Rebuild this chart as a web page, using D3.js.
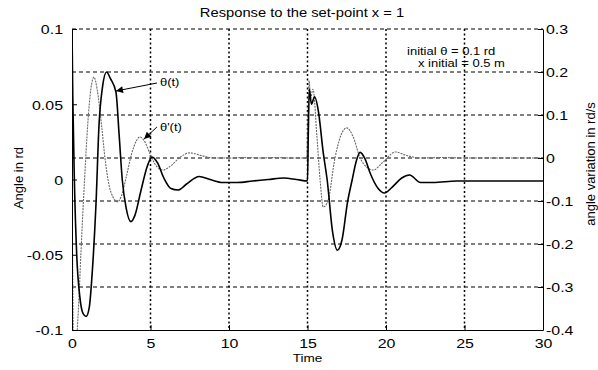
<!DOCTYPE html>
<html>
<head>
<meta charset="utf-8">
<script src="https://cdn.jsdelivr.net/npm/d3@7"></script>
<style>
  body { margin: 0; background: #fff; }
  text { font-family: Arial, "Liberation Sans", Helvetica, sans-serif; fill: #000; }
</style>
</head>
<body>
<div id="chart"></div>
<script>
// angle theta(t), left axis (rd)
var thetaTime = [0, 0.05, 0.15, 0.3, 0.5, 0.7, 0.9, 1.1, 1.3, 1.53, 1.72, 1.95, 2.2, 2.45, 2.8, 3.0, 3.2, 3.45, 3.75, 4.0, 4.4, 4.8, 5.1, 5.45, 5.85, 6.3, 6.75, 7.3, 8.1, 8.8, 9.6, 10.5, 11.5, 12.5, 13.5, 14.3, 15.0, 15.05, 15.12, 15.25, 15.45, 15.7, 16.0, 16.25, 16.6, 16.9, 17.2, 17.55, 17.85, 18.1, 18.35, 18.65, 19.0, 19.5, 19.9, 20.4, 21.0, 21.5, 22.2, 23.0, 24.5, 26, 28, 30];
var thetaValue = [0.1, 0.055, 0.0, -0.05, -0.078, -0.089, -0.091, -0.085, -0.06, -0.016, 0.036, 0.062, 0.0714, 0.067, 0.058, 0.03, 0.0, -0.019, -0.028, -0.024, -0.007, 0.009, 0.015, 0.011, 0.001, -0.006, -0.007, -0.003, 0.002, 0.0, -0.002, -0.002, -0.001, 0.0, 0.001, 0.0, -0.001, 0.03, 0.06, 0.05, 0.055, 0.045, 0.018, 0.0, -0.035, -0.047, -0.04, -0.015, 0.0, 0.012, 0.018, 0.014, 0.004, -0.006, -0.009, -0.005, 0.001, 0.003, -0.002, -0.002, -0.001, -0.001, -0.001, -0.001];

// angle variation theta'(t), right axis (rd/s)
var dthetaTime = [0, 0.05, 0.12, 0.3, 0.45, 0.57, 0.8, 1.0, 1.2, 1.4, 1.6, 1.9, 2.1, 2.36, 2.6, 2.9, 3.15, 3.45, 3.8, 4.1, 4.33, 4.6, 5.0, 5.4, 5.8, 6.3, 6.9, 7.5, 8.2, 9.0, 10, 11, 12, 13, 14, 14.95, 15.03, 15.1, 15.2, 15.35, 15.6, 15.8, 16.0, 16.3, 16.75, 17.1, 17.5, 17.9, 18.35, 18.8, 19.2, 19.8, 20.6, 21.3, 22.2, 23.5, 25, 27, 30];
var dthetaValue = [0.0, -0.3, -0.5, -0.42, -0.32, -0.22, -0.05, 0.077, 0.16, 0.188, 0.16, 0.07, 0.0, -0.063, -0.09, -0.102, -0.088, -0.045, 0.01, 0.04, 0.049, 0.04, 0.007, -0.02, -0.028, -0.018, 0.002, 0.012, 0.006, 0.0, 0.0, 0.001, 0.0, 0.001, 0.0, 0.0, 0.1, 0.18, 0.14, 0.16, 0.05, -0.05, -0.114, -0.1, 0.0, 0.05, 0.07, 0.05, 0.0, -0.022, -0.028, -0.01, 0.014, 0.006, 0.0, 0.001, 0.0, 0.0, 0.0];

var timeTicks = [0, 5, 10, 15, 20, 25, 30];
var angleTicks = [0.1, 0.05, 0, -0.05, -0.1];
var rateTicks = [0.3, 0.2, 0.1, 0, -0.1, -0.2, -0.3, -0.4];

var margin = {top: 29, right: 55, bottom: 40, left: 72},
  totalW = 598,
  totalH = 370,
  width = totalW - margin.left - margin.right,
  height = totalH - margin.top - margin.bottom,
  sx = 1.18; // the picture's lettering is a little wide

var x = d3.scaleLinear().domain([0, 30]).range([0, width]);
var yL = d3.scaleLinear().domain([-0.1, 0.1]).range([height, 0]);
var yR = d3.scaleLinear().domain([-0.4, 0.3]).range([height, 0]);

var svg = d3.select('#chart').append('svg')
  .attr('width', totalW)
  .attr('height', totalH);

svg.append('defs').append('clipPath').attr('id', 'plotclip')
  .append('rect').attr('width', width).attr('height', height);

var marker = svg.select('defs').append('marker')
  .attr('id', 'head')
  .attr('viewBox', '0 0 10 10')
  .attr('refX', 10).attr('refY', 5)
  .attr('markerWidth', 9).attr('markerHeight', 7)
  .attr('markerUnits', 'userSpaceOnUse')
  .attr('orient', 'auto');
marker.append('path').attr('d', 'M0,0 L10,5 L0,10 z').attr('fill', '#000');

var g = svg.append('g')
  .attr('transform', 'translate(' + margin.left + ',' + margin.top + ')');

// grid: dashed rows on the right-axis ticks, dotted columns
g.append('g').selectAll('line')
  .data(rateTicks.filter(function (d) { return d > -0.4; }))
  .enter().append('line')
  .attr('x1', 0).attr('x2', width)
  .attr('y1', function (d) { return yR(d); })
  .attr('y2', function (d) { return yR(d); })
  .attr('stroke', '#000').attr('stroke-width', 1)
  .attr('stroke-dasharray', '4,3');

g.append('g').selectAll('line')
  .data(timeTicks.filter(function (d) { return d > 0 && d < 30; }))
  .enter().append('line')
  .attr('x1', function (d) { return x(d); })
  .attr('x2', function (d) { return x(d); })
  .attr('y1', 0).attr('y2', height)
  .attr('stroke', '#000').attr('stroke-width', 1.5)
  .attr('stroke-dasharray', '2,2.5');

// curves
var plot = g.append('g').attr('clip-path', 'url(#plotclip)');

var rateLine = d3.line()
  .x(function (d) { return x(d[0]); })
  .y(function (d) { return yR(d[1]); })
  .curve(d3.curveMonotoneX);
plot.append('path')
  .datum(d3.zip(dthetaTime, dthetaValue))
  .attr('d', rateLine)
  .attr('fill', 'none')
  .attr('stroke', '#6a6a6a')
  .attr('stroke-width', 1.1)
  .attr('stroke-dasharray', '2,1');

var angleLine = d3.line()
  .x(function (d) { return x(d[0]); })
  .y(function (d) { return yL(d[1]); })
  .curve(d3.curveMonotoneX);
plot.append('path')
  .datum(d3.zip(thetaTime, thetaValue))
  .attr('d', angleLine)
  .attr('fill', 'none')
  .attr('stroke', '#000')
  .attr('stroke-width', 1.6);

// axes, ticks pointing inward
var fmt = function (d) { return String(d); };

var axL = g.append('g')
  .call(d3.axisLeft(yL).tickValues(angleTicks).tickFormat(fmt).tickSizeInner(-5).tickSizeOuter(0));
axL.selectAll('text')
  .attr('x', 0).attr('dy', '0.36em')
  .attr('transform', 'translate(-9,0) scale(' + sx + ',1)');

var axR = g.append('g')
  .attr('transform', 'translate(' + width + ',0)')
  .call(d3.axisRight(yR).tickValues(rateTicks).tickFormat(fmt).tickSizeInner(-5).tickSizeOuter(0));
axR.selectAll('text')
  .attr('x', 0).attr('dy', '0.36em')
  .attr('transform', 'translate(3,0) scale(' + sx + ',1)');

var axB = g.append('g')
  .attr('transform', 'translate(0,' + height + ')')
  .call(d3.axisBottom(x).tickValues(timeTicks).tickFormat(fmt).tickSizeInner(-5).tickSizeOuter(0));
axB.selectAll('text')
  .attr('y', 0).attr('dy', 0)
  .attr('transform', 'translate(0,18) scale(' + sx + ',1)');

[axL, axR, axB].forEach(function (a) {
  a.attr('font-family', null).attr('font-size', null);
  a.selectAll('text').style('font-size', '13.5px');
  a.select('.domain').attr('stroke', '#000').attr('stroke-width', 1);
  a.selectAll('.tick line').attr('stroke', '#000');
});

// titles and labels
function wideText(px, py, str, size, anchor) {
  return svg.append('text')
    .attr('transform', 'translate(' + px + ',' + py + ') scale(' + sx + ',1)')
    .attr('text-anchor', anchor || 'middle')
    .style('font-size', size + 'px')
    .text(str);
}

wideText(302, 17, 'Response to the set-point x = 1', 12.5);
wideText(margin.left + width / 2, 362, 'Time', 11.5);

svg.append('text')
  .attr('transform', 'translate(23,178) rotate(-90)')
  .attr('text-anchor', 'middle')
  .style('font-size', '13px')
  .text('Angle in rd');

svg.append('text')
  .attr('transform', 'translate(595,164) rotate(-90)')
  .attr('text-anchor', 'middle')
  .style('font-size', '13px')
  .text('angle variation in rd/s');

// notes inside the plot, placed in data units
var notes = [
  {t: 21.34, v: 0.0827, s: 'initial \u03b8 = 0.1 rd'},
  {t: 22.04, v: 0.0748, s: 'x initial = 0.5 m'}
];
notes.forEach(function (n) {
  wideText(margin.left + x(n.t), margin.top + yL(n.v), n.s, 11, 'start');
});

var arrows = [
  {label: '\u03b8(t)', tt: 5.6, tv: 0.0621, t0: 5.41, v0: 0.0641, t1: 2.8, v1: 0.0588},
  {label: "\u03b8'(t)", tt: 5.6, tv: 0.0322, t0: 5.41, v0: 0.0349, t1: 4.59, v1: 0.0269}
];
arrows.forEach(function (a) {
  g.append('line')
    .attr('x1', x(a.t0)).attr('y1', yL(a.v0))
    .attr('x2', x(a.t1)).attr('y2', yL(a.v1))
    .attr('stroke', '#000').attr('stroke-width', 1)
    .attr('marker-end', 'url(#head)');
  wideText(margin.left + x(a.tt), margin.top + yL(a.tv), a.label, 11, 'start');
});
</script>
</body>
</html>
